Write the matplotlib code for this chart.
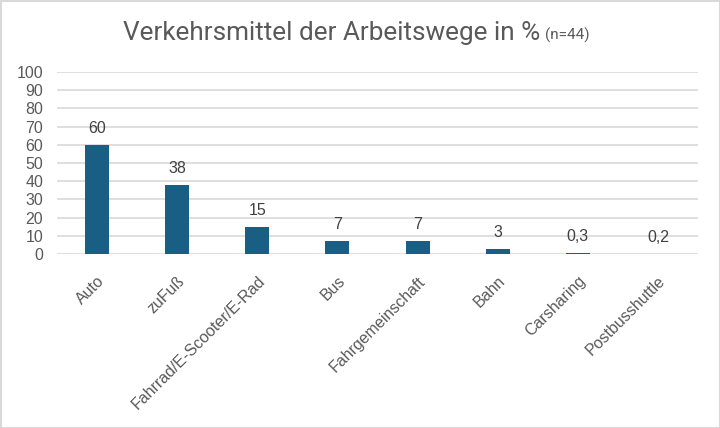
import matplotlib
matplotlib.use("Agg")
import matplotlib.pyplot as plt
from matplotlib.patches import Rectangle

categories = ["Auto", "zuFuß", "Fahrrad/E-Scooter/E-Rad", "Bus", "Fahrgemeinschaft", "Bahn", "Carsharing", "Postbusshuttle"]
values = [60, 38, 15, 7, 7, 3, 0.3, 0.2]
value_labels = ["60", "38", "15", "7", "7", "3", "0,3", "0,2"]
yticks = [0, 10, 20, 30, 40, 50, 60, 70, 80, 90, 100]

plt.rcParams['font.family'] = ['Liberation Sans', 'DejaVu Sans']
text_color = "#595959"
bar_color = "#195E83"

fig = plt.figure(figsize=(7.2, 4.28), dpi=100)
ax = fig.add_axes([57/720, 1 - 254/428, (698 - 57)/720, (254 - 72)/428])

x = list(range(len(categories)))
bars = ax.bar(x, values, width=0.3, color=bar_color, zorder=3)
for xi, v, lab in zip(x, values, value_labels):
    ax.annotate(lab, (xi, v), xytext=(0, 6.5), textcoords="offset points",
                ha="center", va="bottom", fontsize=11.5, color="#404040")

ax.set_xlim(-0.5, len(categories) - 0.5)
ax.set_ylim(0, 100)
ax.set_yticks(yticks)
ax.set_yticklabels([str(t) for t in yticks], fontsize=11.5, color=text_color)
ax.set_xticks(x)
ax.set_xticklabels(categories, rotation=45, ha="right", rotation_mode="anchor",
                   fontsize=11.5, color=text_color)
ax.tick_params(axis="both", length=0)
ax.tick_params(axis="y", pad=10)
ax.tick_params(axis="x", pad=14)
ax.grid(axis="y", color="#D9D9D9", linewidth=1.2, zorder=0)
for s in ax.spines.values():
    s.set_visible(False)

fig.text(540/720, 1 - 33/428, "Verkehrsmittel der Arbeitswege in %", ha="right", va="center",
         fontsize=18.8, color=text_color, family=['Roboto', 'DejaVu Sans'])
fig.text(545/720, 1 - 35/428, "(n=44)", ha="left", va="center",
         fontsize=11, color=text_color, family=['Roboto', 'DejaVu Sans'])

fig.patches.append(Rectangle((0.5/720, 0.5/428), 1 - 1/720, 1 - 1/428, transform=fig.transFigure,
                             fill=False, edgecolor="#D9D9D9", linewidth=1.5))

fig.savefig("out.png", dpi=100)
